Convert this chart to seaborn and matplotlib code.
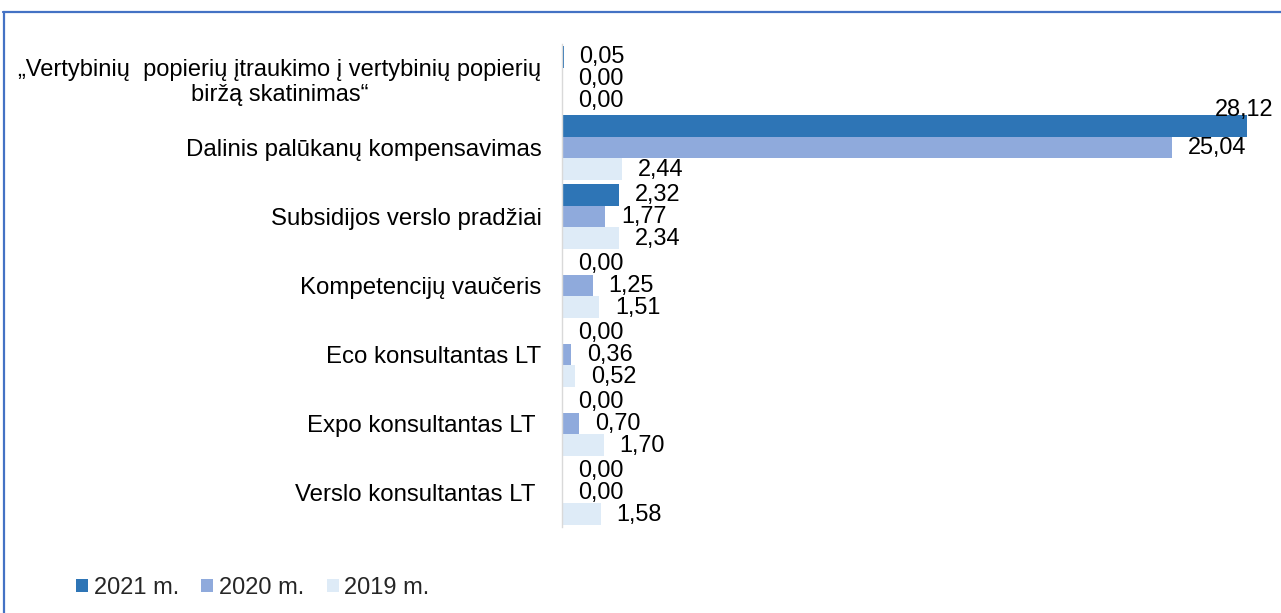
import matplotlib
matplotlib.use("Agg")
import matplotlib.pyplot as plt
from matplotlib.patches import Patch
from matplotlib.lines import Line2D
import seaborn as sns
import pandas as pd

categories = [
    "„Vertybinių  popierių įtraukimo į vertybinių popierių\nbiržą skatinimas“",
    "Dalinis palūkanų kompensavimas",
    "Subsidijos verslo pradžiai",
    "Kompetencijų vaučeris",
    "Eco konsultantas LT",
    "Expo konsultantas LT ",
    "Verslo konsultantas LT ",
]
years = ["2021 m.", "2020 m.", "2019 m."]
values_2021 = [0.05, 28.12, 2.32, 0.00, 0.00, 0.00, 0.00]
values_2020 = [0.00, 25.04, 1.77, 1.25, 0.36, 0.70, 0.00]
values_2019 = [0.00, 2.44, 2.34, 1.51, 0.52, 1.70, 1.58]
colors = ["#2E75B6", "#8FAADC", "#DEEBF7"]

rows = []
for yr, vals in zip(years, [values_2021, values_2020, values_2019]):
    for c, v in zip(categories, vals):
        rows.append({"cat": c, "year": yr, "value": v})
df = pd.DataFrame(rows)

sns.set_theme(style="white")
plt.rcParams["font.family"] = ["Liberation Sans", "DejaVu Sans"]

W, H = 1281, 613
fig = plt.figure(figsize=(W / 100, H / 100), dpi=100)
ax_left, ax_right, ax_top, ax_bot = 562.3, 1273, 44, 527
ax = fig.add_axes([ax_left / W, 1 - ax_bot / H, (ax_right - ax_left) / W, (ax_bot - ax_top) / H])

sns.barplot(data=df, y="cat", x="value", hue="year", order=categories,
            hue_order=years, palette=colors, orient="h", width=0.94,
            linewidth=0, saturation=1, legend=False, ax=ax)

ax.set_xlim(0, 29.2)
ax.set_ylim(len(categories) - 0.5, -0.5)
ax.set_xlabel("")
ax.set_ylabel("")
ax.xaxis.set_visible(False)
for s in ["top", "right", "bottom"]:
    ax.spines[s].set_visible(False)
ax.spines["left"].set_color("#D9D9D9")
ax.spines["left"].set_linewidth(1.0)
ax.tick_params(axis="y", length=0, pad=15)
for i, lab in enumerate(ax.get_yticklabels()):
    lab.set_fontsize(17.0 if i == 0 else 17.3)
    lab.set_color("#000000")
    lab.set_multialignment("center")

fs = 16.9
texts = []
for cont in ax.containers:
    for bar in cont:
        w = bar.get_width()
        yc = bar.get_y() + bar.get_height() / 2
        t = ax.annotate(f"{w:.2f}".replace(".", ","), xy=(w, yc), xytext=(11.5, 0),
                        textcoords="offset points", ha="left", va="center",
                        fontsize=fs, color="black")
        texts.append(t)

fig.canvas.draw()
renderer = fig.canvas.get_renderer()
axbox = ax.get_window_extent(renderer)
for t in texts:
    bb = t.get_window_extent(renderer)
    if bb.x1 > axbox.x1 + 1:
        w, yc = t.xy
        t.xy = (ax.get_xlim()[1], yc)
        t.set_ha("right")
        t.set_position((0, 12))

handles = [Patch(facecolor=c, edgecolor="none") for c in colors]
fig.legend(handles, years, loc="center left", bbox_to_anchor=(76 / W, 25 / H),
           ncol=3, frameon=False, fontsize=17, handlelength=0.5, handleheight=0.5,
           handletextpad=0.25, columnspacing=0.95, borderpad=0, borderaxespad=0)

fig.add_artist(Line2D([3 / W, 1], [1 - 12 / H, 1 - 12 / H], transform=fig.transFigure,
                      color="#4472C4", linewidth=1.6))
fig.add_artist(Line2D([3.5 / W, 3.5 / W], [0, 1 - 12 / H], transform=fig.transFigure,
                      color="#4472C4", linewidth=1.6))

fig.savefig("out.png", dpi=100)
